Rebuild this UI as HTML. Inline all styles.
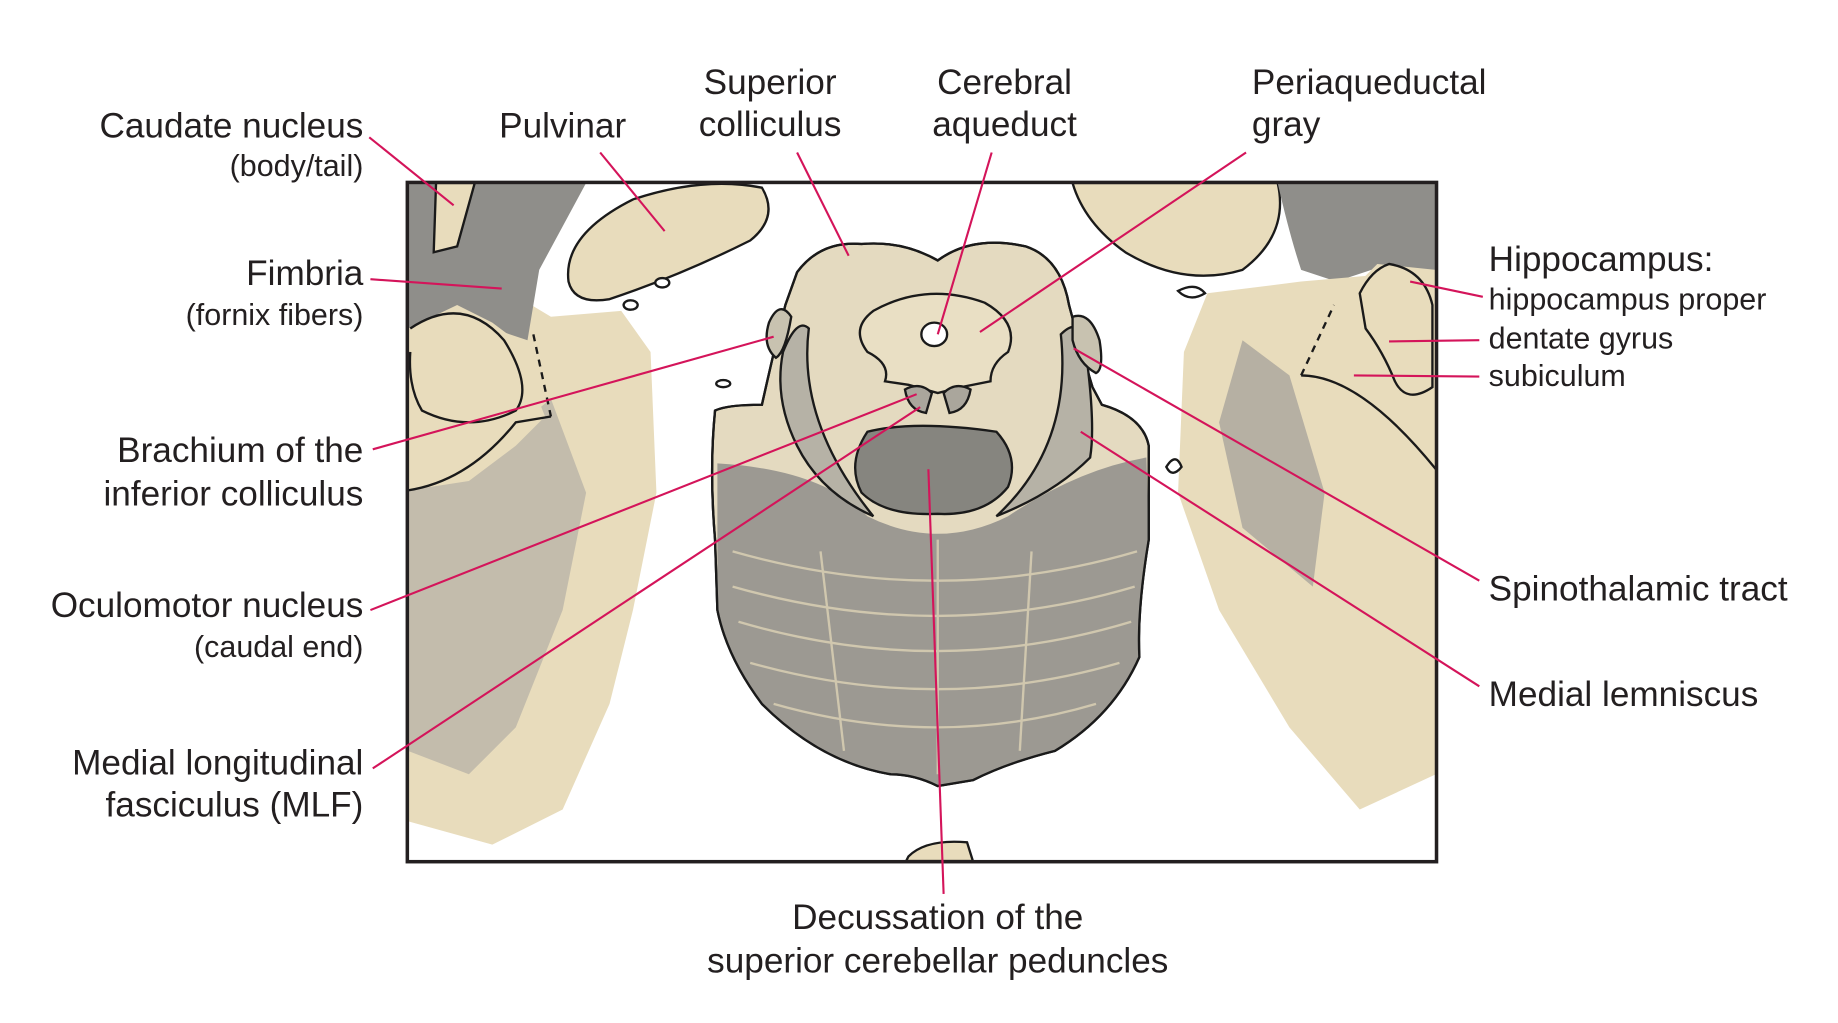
<!DOCTYPE html>
<html><head><meta charset="utf-8"><style>
html,body{margin:0;padding:0;background:#fff;width:1838px;height:1023px;overflow:hidden}
svg{display:block}
text{font-family:"Liberation Sans",Arial,sans-serif;fill:#231f20}
.l{font-size:30px}.s{font-size:26px}
.ld{stroke:#d4145a;stroke-width:1.8;fill:none}
.o{stroke:#1a1a1a;stroke-width:2;fill:none}
</style></head><body>
<svg width="1838" height="1023" viewBox="0 0 1568 872" preserveAspectRatio="none" xmlns="http://www.w3.org/2000/svg">
<defs>
<clipPath id="bx"><rect x="348" y="156" width="877" height="578"/></clipPath>
</defs>
<g clip-path="url(#bx)">
<rect x="348" y="156" width="877" height="578" fill="#fff"/>
<!-- left tissue -->
<path d="M348 260 L420 240 L470 270 L530 265 L555 300 L560 420 L540 520 L520 600 L480 690 L420 720 L348 700 Z" fill="#e8dcbc"/>
<path d="M348 400 L420 380 L470 340 L500 420 L480 520 L440 620 L400 660 L348 640 Z" fill="#b9b4a8" opacity=".8"/>
<path d="M348 156 L420 156 L500 156 L460 230 L450 290 L420 280 L348 310 Z" fill="#8f8e8a"/>
<path d="M372 156 L405 156 L390 210 L370 215 Z" class="o" style="fill:#e8dcbc"/>
<path d="M348 280 L390 260 L420 275 L440 290 L455 330 L465 355 L440 380 L400 410 L348 418 Z" fill="#e8dcbc"/>
<path d="M350 280 Q395 250 430 290 Q455 330 440 350 Q400 370 360 350 Q348 330 350 300" class="o" fill="#e8dcbc"/>
<path d="M455 285 L470 355" class="o" stroke-dasharray="6 5"/>
<path d="M348 418 Q400 410 440 360 L470 355" class="o"/>
<!-- pulvinar -->
<path d="M485 240 Q480 200 540 170 Q600 150 650 160 Q665 185 640 205 Q580 235 520 255 Q490 260 485 240 Z" class="o" style="fill:#e8dcbc"/>
<ellipse cx="565" cy="241" rx="6" ry="4" class="o" style="fill:#fff"/>
<ellipse cx="538" cy="260" rx="6" ry="4" class="o" style="fill:#fff"/>
<ellipse cx="617" cy="327" rx="6" ry="3" class="o" style="fill:#fff"/>
<!-- right tissue -->
<path d="M915 156 L1090 156 Q1100 200 1060 230 Q1010 245 960 215 Q925 190 915 156 Z" class="o" style="fill:#e8dcbc"/>
<path d="M1090 156 L1225 156 L1225 240 L1170 230 L1140 240 L1110 230 Q1100 200 1090 156 Z" fill="#8f8e8a"/>
<path d="M1030 250 L1110 240 L1225 230 L1225 660 L1160 690 L1100 620 L1040 520 L1005 420 L1010 300 Z" fill="#e8dcbc"/>
<path d="M1060 290 L1100 320 L1130 420 L1120 500 L1060 450 L1040 360 Z" fill="#a9a59c" opacity=".8"/>
<path d="M1110 320 L1150 320 Q1180 340 1225 400 L1225 230 L1175 225 L1150 250 L1140 260 Z" fill="#e8dcbc"/>
<path d="M1110 320 Q1160 320 1225 400" class="o"/>
<path d="M1110 320 L1138 260" class="o" stroke-dasharray="6 5"/>
<path d="M1160 250 Q1170 230 1185 225 Q1215 230 1222 260 L1222 330 Q1200 345 1190 325 Q1180 300 1165 280 Z" class="o"/>
<path d="M1005 248 Q1020 240 1028 250 Q1015 258 1005 248 Z" class="o" style="fill:#fff"/>
<path d="M995 398 Q1003 385 1008 398 Q1000 408 995 398 Z" class="o" style="fill:#fff"/>
<!-- central brainstem -->
<path d="M680 232 Q700 205 735 208 Q770 205 800 222 Q830 200 875 210 Q905 220 912 260 Q920 290 932 330 L940 345 Q975 355 980 380 L980 460 Q970 520 972 560 Q950 610 900 640 Q860 650 830 665 L800 670 Q780 660 760 660 Q700 650 650 600 Q620 560 612 520 L610 460 Q605 400 610 350 Q620 345 650 345 Q660 300 670 260 Z" class="o" style="fill:#e4dac0"/>
<path d="M612 395 Q700 400 740 440 Q800 470 860 440 Q920 400 978 390 L980 460 Q970 520 972 560 Q950 610 900 640 Q860 650 830 665 L800 670 Q780 660 760 660 Q700 650 650 600 Q620 560 612 520 Z" fill="#8f8d89" opacity=".85"/>
<g stroke="#ddd3b6" stroke-width="2" fill="none" opacity=".8">
<path d="M625 470 Q800 520 970 470"/><path d="M625 500 Q800 550 968 500"/><path d="M630 530 Q800 580 965 530"/><path d="M640 565 Q800 610 955 565"/><path d="M660 600 Q800 640 935 600"/>
<path d="M700 470 L720 640"/><path d="M800 460 L800 660"/><path d="M880 470 L870 640"/>
</g>
<path d="M680 232 Q700 205 735 208 Q770 205 800 222 Q830 200 875 210 Q905 220 912 260 Q920 290 932 330 L940 345 Q975 355 980 380 L980 460 Q970 520 972 560 Q950 610 900 640 Q860 650 830 665 L800 670 Q780 660 760 660 Q700 650 650 600 Q620 560 612 520 L610 460 Q605 400 610 350 Q620 345 650 345 Q660 300 670 260 Z" class="o"/>
<!-- PAG -->
<path d="M745 265 Q790 240 840 258 Q870 275 860 300 Q845 310 845 325 L820 330 L800 335 L775 328 L755 325 Q760 310 740 300 Q725 280 745 265 Z" class="o" style="fill:#e9dfc4"/>
<ellipse cx="797" cy="285" rx="11" ry="10" class="o" style="fill:#fff"/>
<!-- oculomotor -->
<path d="M772 332 Q785 325 795 335 L790 352 Q775 350 772 332 Z" class="o" style="fill:#aaa69c"/>
<path d="M805 335 Q815 325 828 332 Q825 350 810 352 Z" class="o" style="fill:#aaa69c"/>
<!-- decussation -->
<path d="M740 368 Q780 358 850 368 Q870 390 860 415 Q840 440 800 438 Q755 440 735 420 Q722 395 740 368 Z" class="o" style="fill:#86857f"/>
<!-- ML bands -->
<path d="M668 300 Q680 270 690 280 Q680 360 745 440 Q700 420 680 380 Q660 340 668 300 Z" class="o" style="fill:#b6b2a6"/>
<path d="M905 285 Q920 270 925 290 Q935 360 930 390 Q900 420 850 440 Q915 380 905 285 Z" class="o" style="fill:#b6b2a6"/>
<path d="M656 275 Q665 255 675 270 Q670 300 662 305 Q650 295 656 275 Z" class="o" style="fill:#c8c2b0"/>
<path d="M915 270 Q930 265 938 290 Q942 315 935 318 Q920 310 915 290 Z" class="o" style="fill:#c8c2b0"/>
<path d="M775 730 Q790 715 825 718 L830 734 L773 734 Z" class="o" style="fill:#e8dcbc"/>
</g>
<rect x="347.5" y="155.5" width="878" height="579" fill="none" stroke="#231f20" stroke-width="3"/>
<!-- leaders -->
<line class="ld" x1="315" y1="117" x2="387" y2="175"/>
<line class="ld" x1="512" y1="130" x2="567" y2="197"/>
<line class="ld" x1="680" y1="130" x2="724" y2="218"/>
<line class="ld" x1="846" y1="130" x2="800" y2="285"/>
<line class="ld" x1="1063" y1="130" x2="836" y2="283"/>
<line class="ld" x1="316" y1="238" x2="428" y2="246"/>
<line class="ld" x1="318" y1="383" x2="660" y2="287"/>
<line class="ld" x1="316" y1="520" x2="782" y2="336"/>
<line class="ld" x1="318" y1="655" x2="785" y2="347"/>
<line class="ld" x1="805" y1="762" x2="792" y2="400"/>
<line class="ld" x1="1265" y1="253" x2="1203" y2="240"/>
<line class="ld" x1="1262" y1="290" x2="1185" y2="291"/>
<line class="ld" x1="1262" y1="321" x2="1155" y2="320"/>
<line class="ld" x1="1262" y1="495" x2="916" y2="297"/>
<line class="ld" x1="1262" y1="585" x2="922" y2="368"/>
<!-- labels -->
<g text-anchor="end">
<text class="l" x="310" y="117">Caudate nucleus</text>
<text class="s" x="310" y="150">(body/tail)</text>
<text class="l" x="310" y="243">Fimbria</text>
<text class="s" x="310" y="277">(fornix fibers)</text>
<text class="l" x="310" y="394">Brachium of the</text>
<text class="l" x="310" y="431">inferior colliculus</text>
<text class="l" x="310" y="526">Oculomotor nucleus</text>
<text class="s" x="310" y="560">(caudal end)</text>
<text class="l" x="310" y="660">Medial longitudinal</text>
<text class="l" x="310" y="696">fasciculus (MLF)</text>
</g>
<g text-anchor="middle">
<text class="l" x="480" y="117">Pulvinar</text>
<text class="l" x="657" y="80">Superior</text>
<text class="l" x="657" y="116">colliculus</text>
<text class="l" x="857" y="80">Cerebral</text>
<text class="l" x="857" y="116">aqueduct</text>
<text class="l" x="800" y="792">Decussation of the</text>
<text class="l" x="800" y="829">superior cerebellar peduncles</text>
</g>
<text class="l" x="1068" y="80">Periaqueductal</text>
<text class="l" x="1068" y="116">gray</text>
<text class="l" x="1270" y="231">Hippocampus:</text>
<text class="s" x="1270" y="264">hippocampus proper</text>
<text class="s" x="1270" y="297">dentate gyrus</text>
<text class="s" x="1270" y="329">subiculum</text>
<text class="l" x="1270" y="512">Spinothalamic tract</text>
<text class="l" x="1270" y="602">Medial lemniscus</text>
</svg>
</body></html>
